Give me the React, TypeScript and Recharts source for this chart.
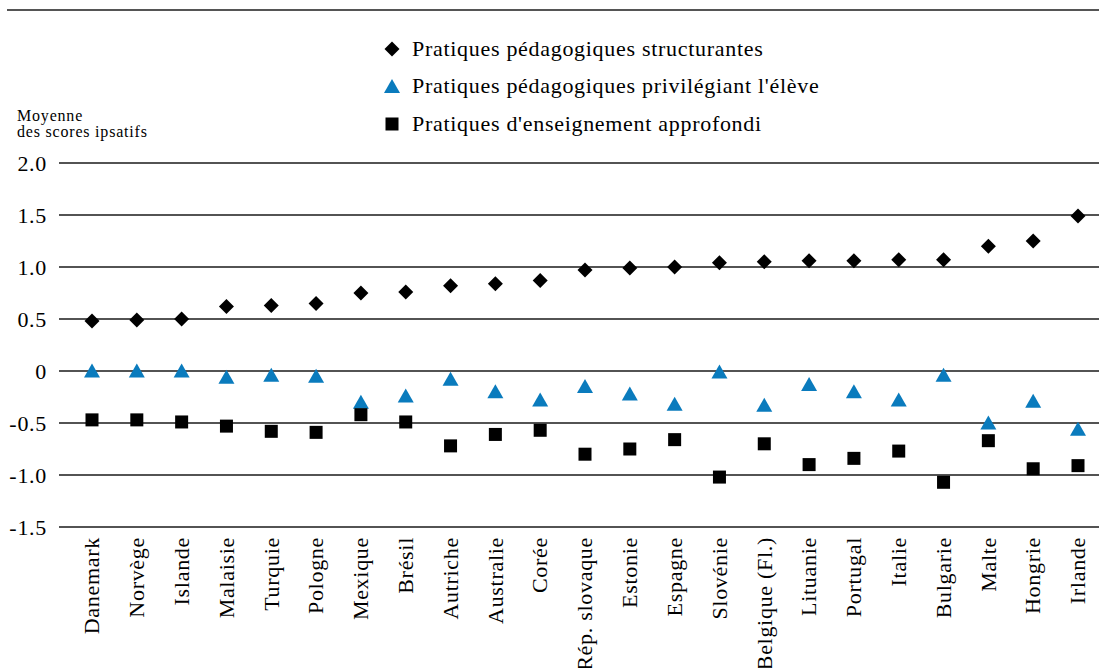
import { ComposedChart, Scatter, XAxis, YAxis, CartesianGrid } from 'recharts'

const CATEGORIES = [
  'Danemark', 'Norvège', 'Islande', 'Malaisie', 'Turquie', 'Pologne', 'Mexique', 'Brésil',
  'Autriche', 'Australie', 'Corée', 'Rép. slovaque', 'Estonie', 'Espagne', 'Slovénie',
  'Belgique (Fl.)', 'Lituanie', 'Portugal', 'Italie', 'Bulgarie', 'Malte', 'Hongrie', 'Irlande',
]

const STRUCTURANTES = [
  0.48, 0.49, 0.50, 0.62, 0.63, 0.65, 0.75, 0.76, 0.82, 0.84, 0.87, 0.97,
  0.99, 1.00, 1.04, 1.05, 1.06, 1.06, 1.07, 1.07, 1.20, 1.25, 1.49,
]

const ELEVE = [
  0.00, 0.00, 0.00, -0.06, -0.04, -0.05, -0.30, -0.24, -0.08, -0.20, -0.28, -0.15,
  -0.22, -0.32, -0.01, -0.33, -0.13, -0.20, -0.28, -0.04, -0.50, -0.29, -0.56,
]

const APPROFONDI = [
  -0.47, -0.47, -0.49, -0.53, -0.58, -0.59, -0.42, -0.49, -0.72, -0.61, -0.57, -0.80,
  -0.75, -0.66, -1.02, -0.70, -0.90, -0.84, -0.77, -1.07, -0.67, -0.94, -0.91,
]

const Y_TICKS = [2, 1.5, 1, 0.5, 0, -0.5, -1, -1.5]

const SERIES_NAMES = [
  'Pratiques pédagogiques structurantes',
  "Pratiques pédagogiques privilégiant l'élève",
  "Pratiques d'enseignement approfondi",
]

const FONT = "'Liberation Serif', 'DejaVu Serif', serif"
const BLUE = '#0a7bbd'

const data = CATEGORIES.map((name, i) => ({
  name,
  structurantes: STRUCTURANTES[i],
  eleve: ELEVE[i],
  approfondi: APPROFONDI[i],
}))

const Diamond = ({ cx, cy }: { cx?: number; cy?: number }) => {
  if (cx == null || cy == null) return null
  const r = 7.5
  return <polygon points={`${cx},${cy - r} ${cx + r},${cy} ${cx},${cy + r} ${cx - r},${cy}`} fill="#000" />
}

const Triangle = ({ cx, cy }: { cx?: number; cy?: number }) => {
  if (cx == null || cy == null) return null
  return <polygon points={`${cx},${cy - 7.5} ${cx + 8},${cy + 6.5} ${cx - 8},${cy + 6.5}`} fill={BLUE} />
}

const Square = ({ cx, cy }: { cx?: number; cy?: number }) => {
  if (cx == null || cy == null) return null
  return <rect x={cx - 6.5} y={cy - 6.5} width={13} height={13} fill="#000" />
}

const CategoryTick = ({ x, y, payload }: any) => (
  <text
    x={0}
    y={0}
    dy="0.33em"
    transform={`translate(${x},${y}) rotate(-90)`}
    textAnchor="end"
    fontFamily={FONT}
    fontSize={22}
    letterSpacing={0.7}
    fill="#000"
  >
    {payload.value}
  </text>
)

const LegendBlock = () => {
  const markers = [
    <svg width={16} height={16}><Diamond cx={8} cy={8} /></svg>,
    <svg width={16} height={16}><Triangle cx={8} cy={8.5} /></svg>,
    <svg width={16} height={16}><Square cx={8} cy={8} /></svg>,
  ]
  return (
    <div
      style={{
        position: 'absolute',
        left: 384,
        top: 30,
        fontFamily: FONT,
        fontSize: 22,
        letterSpacing: 0.7,
        color: '#000',
      }}
    >
      {SERIES_NAMES.map((n, i) => (
        <div key={n} style={{ display: 'flex', alignItems: 'center', height: 37.5 }}>
          <span style={{ width: 28, display: 'inline-flex' }}>{markers[i]}</span>
          <span>{n}</span>
        </div>
      ))}
    </div>
  )
}

export default function App() {
  return (
    <div style={{ position: 'absolute', left: 0, top: 0, width: 1099, height: 668, background: '#fff' }}>
      <div style={{ position: 'absolute', left: 7, right: 0, top: 9, height: 0, borderTop: '2px solid #555' }} />
      <div
        style={{
          position: 'absolute',
          left: 17,
          top: 108,
          fontFamily: FONT,
          fontSize: 16,
          letterSpacing: 0.8,
          lineHeight: '16px',
          color: '#000',
        }}
      >
        <div>Moyenne</div>
        <div>des scores ipsatifs</div>
      </div>
      <LegendBlock />
      <div style={{ position: 'absolute', left: 0, top: 0 }}>
        <ComposedChart
          width={1099}
          height={668}
          data={data}
          margin={{ top: 163, right: 0, bottom: 0, left: 0 }}
        >
          <CartesianGrid vertical={false} stroke="#1a1a1a" strokeWidth={1.3} />
          <XAxis
            dataKey="name"
            type="category"
            axisLine={false}
            tickLine={false}
            interval={0}
            padding={{ left: 33, right: 21 }}
            tick={<CategoryTick />}
            tickSize={0}
            tickMargin={10}
            height={141}
          />
          <YAxis
            type="number"
            domain={[-1.5, 2]}
            ticks={Y_TICKS}
            width={59}
            axisLine={false}
            tickLine={false}
            tickSize={0}
            tickMargin={12}
            tick={{ fontFamily: FONT, fontSize: 22, fill: '#000', letterSpacing: 0.7 }}
            tickFormatter={(v: number) => (v === 0 ? '0' : v.toFixed(1))}
          />
          <Scatter name={SERIES_NAMES[0]} dataKey="structurantes" shape={<Diamond />} isAnimationActive={false} />
          <Scatter name={SERIES_NAMES[1]} dataKey="eleve" shape={<Triangle />} isAnimationActive={false} />
          <Scatter name={SERIES_NAMES[2]} dataKey="approfondi" shape={<Square />} isAnimationActive={false} />
        </ComposedChart>
      </div>
    </div>
  )
}
